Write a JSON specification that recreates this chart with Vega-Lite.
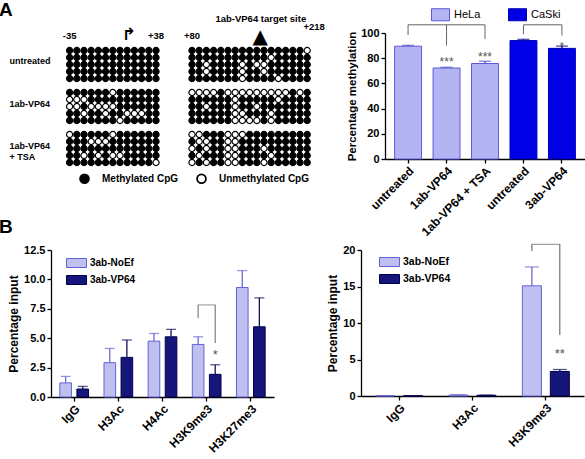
{
"$schema": "https://vega.github.io/schema/vega-lite/v6.json",
"padding": {"left": -2, "top": 1, "right": 0, "bottom": 0},
"background": "white",
"config": {
 "view": {"stroke": null},
 "font": "Liberation Sans",
 "axis": {"domainColor": "black", "tickColor": "black", "domainWidth": 1.3, "tickWidth": 1.3, "tickSize": 4, "labelFont": "Liberation Sans", "labelFontWeight": "bold", "labelColor": "black", "labelFontSize": 11, "titleFont": "Liberation Sans", "titleFontWeight": "bold", "titleColor": "black", "titleFontSize": 12, "grid": false, "labelPadding": 2, "labelOverlap": false},
 "legend": {"labelFont": "Liberation Sans", "labelColor": "black"},
 "text": {"font": "Liberation Sans"}
},
"resolve": {"scale": {"fill": "independent", "stroke": "independent", "color": "independent", "xOffset": "independent", "yOffset": "independent"}, "legend": {"fill": "independent", "stroke": "independent", "color": "independent"}},
"datasets": {
"cells": [
{"g":"u","r":1,"b":"L","c":1,"m":"M"},{"g":"u","r":1,"b":"L","c":2,"m":"M"},{"g":"u","r":1,"b":"L","c":3,"m":"M"},{"g":"u","r":1,"b":"L","c":4,"m":"M"},{"g":"u","r":1,"b":"L","c":5,"m":"M"},{"g":"u","r":1,"b":"L","c":6,"m":"M"},{"g":"u","r":1,"b":"L","c":7,"m":"M"},{"g":"u","r":1,"b":"L","c":8,"m":"M"},{"g":"u","r":1,"b":"L","c":9,"m":"M"},{"g":"u","r":1,"b":"L","c":10,"m":"M"},{"g":"u","r":1,"b":"L","c":11,"m":"M"},{"g":"u","r":1,"b":"L","c":12,"m":"M"},{"g":"u","r":1,"b":"L","c":13,"m":"M"},
{"g":"u","r":2,"b":"L","c":1,"m":"M"},{"g":"u","r":2,"b":"L","c":2,"m":"M"},{"g":"u","r":2,"b":"L","c":3,"m":"M"},{"g":"u","r":2,"b":"L","c":4,"m":"M"},{"g":"u","r":2,"b":"L","c":5,"m":"M"},{"g":"u","r":2,"b":"L","c":6,"m":"M"},{"g":"u","r":2,"b":"L","c":7,"m":"M"},{"g":"u","r":2,"b":"L","c":8,"m":"M"},{"g":"u","r":2,"b":"L","c":9,"m":"M"},{"g":"u","r":2,"b":"L","c":10,"m":"M"},{"g":"u","r":2,"b":"L","c":11,"m":"M"},{"g":"u","r":2,"b":"L","c":12,"m":"M"},{"g":"u","r":2,"b":"L","c":13,"m":"M"},
{"g":"u","r":3,"b":"L","c":1,"m":"M"},{"g":"u","r":3,"b":"L","c":2,"m":"M"},{"g":"u","r":3,"b":"L","c":3,"m":"M"},{"g":"u","r":3,"b":"L","c":4,"m":"M"},{"g":"u","r":3,"b":"L","c":5,"m":"M"},{"g":"u","r":3,"b":"L","c":6,"m":"M"},{"g":"u","r":3,"b":"L","c":7,"m":"M"},{"g":"u","r":3,"b":"L","c":8,"m":"M"},{"g":"u","r":3,"b":"L","c":9,"m":"M"},{"g":"u","r":3,"b":"L","c":10,"m":"M"},{"g":"u","r":3,"b":"L","c":11,"m":"M"},{"g":"u","r":3,"b":"L","c":12,"m":"M"},{"g":"u","r":3,"b":"L","c":13,"m":"M"},
{"g":"u","r":4,"b":"L","c":1,"m":"M"},{"g":"u","r":4,"b":"L","c":2,"m":"M"},{"g":"u","r":4,"b":"L","c":3,"m":"M"},{"g":"u","r":4,"b":"L","c":4,"m":"M"},{"g":"u","r":4,"b":"L","c":5,"m":"M"},{"g":"u","r":4,"b":"L","c":6,"m":"M"},{"g":"u","r":4,"b":"L","c":7,"m":"M"},{"g":"u","r":4,"b":"L","c":8,"m":"M"},{"g":"u","r":4,"b":"L","c":9,"m":"M"},{"g":"u","r":4,"b":"L","c":10,"m":"M"},{"g":"u","r":4,"b":"L","c":11,"m":"M"},{"g":"u","r":4,"b":"L","c":12,"m":"M"},{"g":"u","r":4,"b":"L","c":13,"m":"M"},
{"g":"u","r":5,"b":"L","c":1,"m":"M"},{"g":"u","r":5,"b":"L","c":2,"m":"M"},{"g":"u","r":5,"b":"L","c":3,"m":"M"},{"g":"u","r":5,"b":"L","c":4,"m":"M"},{"g":"u","r":5,"b":"L","c":5,"m":"M"},{"g":"u","r":5,"b":"L","c":6,"m":"M"},{"g":"u","r":5,"b":"L","c":7,"m":"M"},{"g":"u","r":5,"b":"L","c":8,"m":"M"},{"g":"u","r":5,"b":"L","c":9,"m":"M"},{"g":"u","r":5,"b":"L","c":10,"m":"M"},{"g":"u","r":5,"b":"L","c":11,"m":"M"},{"g":"u","r":5,"b":"L","c":12,"m":"M"},{"g":"u","r":5,"b":"L","c":13,"m":"M"},
{"g":"u","r":1,"b":"R","c":1,"m":"M"},{"g":"u","r":1,"b":"R","c":2,"m":"M"},{"g":"u","r":1,"b":"R","c":3,"m":"M"},{"g":"u","r":1,"b":"R","c":4,"m":"M"},{"g":"u","r":1,"b":"R","c":5,"m":"M"},{"g":"u","r":1,"b":"R","c":6,"m":"M"},{"g":"u","r":1,"b":"R","c":7,"m":"M"},{"g":"u","r":1,"b":"R","c":8,"m":"M"},{"g":"u","r":1,"b":"R","c":9,"m":"M"},{"g":"u","r":1,"b":"R","c":10,"m":"M"},{"g":"u","r":1,"b":"R","c":11,"m":"M"},{"g":"u","r":1,"b":"R","c":12,"m":"M"},{"g":"u","r":1,"b":"R","c":13,"m":"M"},{"g":"u","r":1,"b":"R","c":14,"m":"M"},{"g":"u","r":1,"b":"R","c":15,"m":"M"},{"g":"u","r":1,"b":"R","c":16,"m":"M"},{"g":"u","r":1,"b":"R","c":17,"m":"U"},
{"g":"u","r":2,"b":"R","c":1,"m":"M"},{"g":"u","r":2,"b":"R","c":2,"m":"M"},{"g":"u","r":2,"b":"R","c":3,"m":"M"},{"g":"u","r":2,"b":"R","c":4,"m":"M"},{"g":"u","r":2,"b":"R","c":5,"m":"M"},{"g":"u","r":2,"b":"R","c":6,"m":"M"},{"g":"u","r":2,"b":"R","c":7,"m":"M"},{"g":"u","r":2,"b":"R","c":8,"m":"M"},{"g":"u","r":2,"b":"R","c":9,"m":"M"},{"g":"u","r":2,"b":"R","c":10,"m":"M"},{"g":"u","r":2,"b":"R","c":11,"m":"M"},{"g":"u","r":2,"b":"R","c":12,"m":"U"},{"g":"u","r":2,"b":"R","c":13,"m":"M"},{"g":"u","r":2,"b":"R","c":14,"m":"M"},{"g":"u","r":2,"b":"R","c":15,"m":"M"},{"g":"u","r":2,"b":"R","c":16,"m":"M"},{"g":"u","r":2,"b":"R","c":17,"m":"M"},
{"g":"u","r":3,"b":"R","c":1,"m":"M"},{"g":"u","r":3,"b":"R","c":2,"m":"M"},{"g":"u","r":3,"b":"R","c":3,"m":"U"},{"g":"u","r":3,"b":"R","c":4,"m":"M"},{"g":"u","r":3,"b":"R","c":5,"m":"M"},{"g":"u","r":3,"b":"R","c":6,"m":"M"},{"g":"u","r":3,"b":"R","c":7,"m":"M"},{"g":"u","r":3,"b":"R","c":8,"m":"U"},{"g":"u","r":3,"b":"R","c":9,"m":"M"},{"g":"u","r":3,"b":"R","c":10,"m":"U"},{"g":"u","r":3,"b":"R","c":11,"m":"U"},{"g":"u","r":3,"b":"R","c":12,"m":"M"},{"g":"u","r":3,"b":"R","c":13,"m":"M"},{"g":"u","r":3,"b":"R","c":14,"m":"M"},{"g":"u","r":3,"b":"R","c":15,"m":"M"},{"g":"u","r":3,"b":"R","c":16,"m":"M"},{"g":"u","r":3,"b":"R","c":17,"m":"M"},
{"g":"u","r":4,"b":"R","c":1,"m":"M"},{"g":"u","r":4,"b":"R","c":2,"m":"M"},{"g":"u","r":4,"b":"R","c":3,"m":"U"},{"g":"u","r":4,"b":"R","c":4,"m":"M"},{"g":"u","r":4,"b":"R","c":5,"m":"M"},{"g":"u","r":4,"b":"R","c":6,"m":"M"},{"g":"u","r":4,"b":"R","c":7,"m":"M"},{"g":"u","r":4,"b":"R","c":8,"m":"U"},{"g":"u","r":4,"b":"R","c":9,"m":"M"},{"g":"u","r":4,"b":"R","c":10,"m":"M"},{"g":"u","r":4,"b":"R","c":11,"m":"U"},{"g":"u","r":4,"b":"R","c":12,"m":"M"},{"g":"u","r":4,"b":"R","c":13,"m":"M"},{"g":"u","r":4,"b":"R","c":14,"m":"M"},{"g":"u","r":4,"b":"R","c":15,"m":"M"},{"g":"u","r":4,"b":"R","c":16,"m":"M"},{"g":"u","r":4,"b":"R","c":17,"m":"M"},
{"g":"u","r":5,"b":"R","c":1,"m":"M"},{"g":"u","r":5,"b":"R","c":2,"m":"M"},{"g":"u","r":5,"b":"R","c":3,"m":"M"},{"g":"u","r":5,"b":"R","c":4,"m":"M"},{"g":"u","r":5,"b":"R","c":5,"m":"M"},{"g":"u","r":5,"b":"R","c":6,"m":"M"},{"g":"u","r":5,"b":"R","c":7,"m":"M"},{"g":"u","r":5,"b":"R","c":8,"m":"U"},{"g":"u","r":5,"b":"R","c":9,"m":"M"},{"g":"u","r":5,"b":"R","c":10,"m":"M"},{"g":"u","r":5,"b":"R","c":11,"m":"M"},{"g":"u","r":5,"b":"R","c":12,"m":"M"},{"g":"u","r":5,"b":"R","c":13,"m":"U"},{"g":"u","r":5,"b":"R","c":14,"m":"M"},{"g":"u","r":5,"b":"R","c":15,"m":"M"},{"g":"u","r":5,"b":"R","c":16,"m":"M"},{"g":"u","r":5,"b":"R","c":17,"m":"M"},
{"g":"v","r":1,"b":"L","c":1,"m":"M"},{"g":"v","r":1,"b":"L","c":2,"m":"M"},{"g":"v","r":1,"b":"L","c":3,"m":"M"},{"g":"v","r":1,"b":"L","c":4,"m":"M"},{"g":"v","r":1,"b":"L","c":5,"m":"M"},{"g":"v","r":1,"b":"L","c":6,"m":"M"},{"g":"v","r":1,"b":"L","c":7,"m":"U"},{"g":"v","r":1,"b":"L","c":8,"m":"M"},{"g":"v","r":1,"b":"L","c":9,"m":"M"},{"g":"v","r":1,"b":"L","c":10,"m":"M"},{"g":"v","r":1,"b":"L","c":11,"m":"M"},{"g":"v","r":1,"b":"L","c":12,"m":"M"},{"g":"v","r":1,"b":"L","c":13,"m":"M"},
{"g":"v","r":2,"b":"L","c":1,"m":"U"},{"g":"v","r":2,"b":"L","c":2,"m":"U"},{"g":"v","r":2,"b":"L","c":3,"m":"U"},{"g":"v","r":2,"b":"L","c":4,"m":"M"},{"g":"v","r":2,"b":"L","c":5,"m":"M"},{"g":"v","r":2,"b":"L","c":6,"m":"M"},{"g":"v","r":2,"b":"L","c":7,"m":"M"},{"g":"v","r":2,"b":"L","c":8,"m":"M"},{"g":"v","r":2,"b":"L","c":9,"m":"M"},{"g":"v","r":2,"b":"L","c":10,"m":"M"},{"g":"v","r":2,"b":"L","c":11,"m":"M"},{"g":"v","r":2,"b":"L","c":12,"m":"M"},{"g":"v","r":2,"b":"L","c":13,"m":"M"},
{"g":"v","r":3,"b":"L","c":1,"m":"U"},{"g":"v","r":3,"b":"L","c":2,"m":"U"},{"g":"v","r":3,"b":"L","c":3,"m":"M"},{"g":"v","r":3,"b":"L","c":4,"m":"U"},{"g":"v","r":3,"b":"L","c":5,"m":"U"},{"g":"v","r":3,"b":"L","c":6,"m":"U"},{"g":"v","r":3,"b":"L","c":7,"m":"U"},{"g":"v","r":3,"b":"L","c":8,"m":"M"},{"g":"v","r":3,"b":"L","c":9,"m":"M"},{"g":"v","r":3,"b":"L","c":10,"m":"M"},{"g":"v","r":3,"b":"L","c":11,"m":"M"},{"g":"v","r":3,"b":"L","c":12,"m":"M"},{"g":"v","r":3,"b":"L","c":13,"m":"M"},
{"g":"v","r":4,"b":"L","c":1,"m":"M"},{"g":"v","r":4,"b":"L","c":2,"m":"M"},{"g":"v","r":4,"b":"L","c":3,"m":"U"},{"g":"v","r":4,"b":"L","c":4,"m":"M"},{"g":"v","r":4,"b":"L","c":5,"m":"M"},{"g":"v","r":4,"b":"L","c":6,"m":"U"},{"g":"v","r":4,"b":"L","c":7,"m":"M"},{"g":"v","r":4,"b":"L","c":8,"m":"M"},{"g":"v","r":4,"b":"L","c":9,"m":"U"},{"g":"v","r":4,"b":"L","c":10,"m":"U"},{"g":"v","r":4,"b":"L","c":11,"m":"U"},{"g":"v","r":4,"b":"L","c":12,"m":"M"},{"g":"v","r":4,"b":"L","c":13,"m":"M"},
{"g":"v","r":5,"b":"L","c":1,"m":"M"},{"g":"v","r":5,"b":"L","c":2,"m":"M"},{"g":"v","r":5,"b":"L","c":3,"m":"M"},{"g":"v","r":5,"b":"L","c":4,"m":"M"},{"g":"v","r":5,"b":"L","c":5,"m":"M"},{"g":"v","r":5,"b":"L","c":6,"m":"M"},{"g":"v","r":5,"b":"L","c":7,"m":"M"},{"g":"v","r":5,"b":"L","c":8,"m":"U"},{"g":"v","r":5,"b":"L","c":9,"m":"M"},{"g":"v","r":5,"b":"L","c":10,"m":"M"},{"g":"v","r":5,"b":"L","c":11,"m":"M"},{"g":"v","r":5,"b":"L","c":12,"m":"M"},{"g":"v","r":5,"b":"L","c":13,"m":"M"},
{"g":"v","r":1,"b":"R","c":1,"m":"U"},{"g":"v","r":1,"b":"R","c":2,"m":"U"},{"g":"v","r":1,"b":"R","c":3,"m":"U"},{"g":"v","r":1,"b":"R","c":4,"m":"U"},{"g":"v","r":1,"b":"R","c":5,"m":"M"},{"g":"v","r":1,"b":"R","c":6,"m":"U"},{"g":"v","r":1,"b":"R","c":7,"m":"U"},{"g":"v","r":1,"b":"R","c":8,"m":"U"},{"g":"v","r":1,"b":"R","c":9,"m":"U"},{"g":"v","r":1,"b":"R","c":10,"m":"U"},{"g":"v","r":1,"b":"R","c":11,"m":"U"},{"g":"v","r":1,"b":"R","c":12,"m":"U"},{"g":"v","r":1,"b":"R","c":13,"m":"U"},{"g":"v","r":1,"b":"R","c":14,"m":"U"},{"g":"v","r":1,"b":"R","c":15,"m":"M"},{"g":"v","r":1,"b":"R","c":16,"m":"U"},{"g":"v","r":1,"b":"R","c":17,"m":"M"},
{"g":"v","r":2,"b":"R","c":1,"m":"M"},{"g":"v","r":2,"b":"R","c":2,"m":"M"},{"g":"v","r":2,"b":"R","c":3,"m":"M"},{"g":"v","r":2,"b":"R","c":4,"m":"M"},{"g":"v","r":2,"b":"R","c":5,"m":"M"},{"g":"v","r":2,"b":"R","c":6,"m":"M"},{"g":"v","r":2,"b":"R","c":7,"m":"U"},{"g":"v","r":2,"b":"R","c":8,"m":"M"},{"g":"v","r":2,"b":"R","c":9,"m":"M"},{"g":"v","r":2,"b":"R","c":10,"m":"M"},{"g":"v","r":2,"b":"R","c":11,"m":"M"},{"g":"v","r":2,"b":"R","c":12,"m":"M"},{"g":"v","r":2,"b":"R","c":13,"m":"U"},{"g":"v","r":2,"b":"R","c":14,"m":"M"},{"g":"v","r":2,"b":"R","c":15,"m":"M"},{"g":"v","r":2,"b":"R","c":16,"m":"M"},{"g":"v","r":2,"b":"R","c":17,"m":"M"},
{"g":"v","r":3,"b":"R","c":1,"m":"M"},{"g":"v","r":3,"b":"R","c":2,"m":"M"},{"g":"v","r":3,"b":"R","c":3,"m":"U"},{"g":"v","r":3,"b":"R","c":4,"m":"M"},{"g":"v","r":3,"b":"R","c":5,"m":"M"},{"g":"v","r":3,"b":"R","c":6,"m":"M"},{"g":"v","r":3,"b":"R","c":7,"m":"U"},{"g":"v","r":3,"b":"R","c":8,"m":"M"},{"g":"v","r":3,"b":"R","c":9,"m":"M"},{"g":"v","r":3,"b":"R","c":10,"m":"U"},{"g":"v","r":3,"b":"R","c":11,"m":"M"},{"g":"v","r":3,"b":"R","c":12,"m":"M"},{"g":"v","r":3,"b":"R","c":13,"m":"M"},{"g":"v","r":3,"b":"R","c":14,"m":"M"},{"g":"v","r":3,"b":"R","c":15,"m":"M"},{"g":"v","r":3,"b":"R","c":16,"m":"M"},{"g":"v","r":3,"b":"R","c":17,"m":"M"},
{"g":"v","r":4,"b":"R","c":1,"m":"M"},{"g":"v","r":4,"b":"R","c":2,"m":"M"},{"g":"v","r":4,"b":"R","c":3,"m":"M"},{"g":"v","r":4,"b":"R","c":4,"m":"M"},{"g":"v","r":4,"b":"R","c":5,"m":"M"},{"g":"v","r":4,"b":"R","c":6,"m":"M"},{"g":"v","r":4,"b":"R","c":7,"m":"U"},{"g":"v","r":4,"b":"R","c":8,"m":"U"},{"g":"v","r":4,"b":"R","c":9,"m":"M"},{"g":"v","r":4,"b":"R","c":10,"m":"M"},{"g":"v","r":4,"b":"R","c":11,"m":"M"},{"g":"v","r":4,"b":"R","c":12,"m":"U"},{"g":"v","r":4,"b":"R","c":13,"m":"M"},{"g":"v","r":4,"b":"R","c":14,"m":"M"},{"g":"v","r":4,"b":"R","c":15,"m":"M"},{"g":"v","r":4,"b":"R","c":16,"m":"M"},{"g":"v","r":4,"b":"R","c":17,"m":"M"},
{"g":"v","r":5,"b":"R","c":1,"m":"M"},{"g":"v","r":5,"b":"R","c":2,"m":"M"},{"g":"v","r":5,"b":"R","c":3,"m":"M"},{"g":"v","r":5,"b":"R","c":4,"m":"M"},{"g":"v","r":5,"b":"R","c":5,"m":"M"},{"g":"v","r":5,"b":"R","c":6,"m":"M"},{"g":"v","r":5,"b":"R","c":7,"m":"U"},{"g":"v","r":5,"b":"R","c":8,"m":"U"},{"g":"v","r":5,"b":"R","c":9,"m":"U"},{"g":"v","r":5,"b":"R","c":10,"m":"U"},{"g":"v","r":5,"b":"R","c":11,"m":"M"},{"g":"v","r":5,"b":"R","c":12,"m":"U"},{"g":"v","r":5,"b":"R","c":13,"m":"M"},{"g":"v","r":5,"b":"R","c":14,"m":"M"},{"g":"v","r":5,"b":"R","c":15,"m":"M"},{"g":"v","r":5,"b":"R","c":16,"m":"M"},{"g":"v","r":5,"b":"R","c":17,"m":"M"},
{"g":"t","r":1,"b":"L","c":1,"m":"U"},{"g":"t","r":1,"b":"L","c":2,"m":"M"},{"g":"t","r":1,"b":"L","c":3,"m":"M"},{"g":"t","r":1,"b":"L","c":4,"m":"M"},{"g":"t","r":1,"b":"L","c":5,"m":"M"},{"g":"t","r":1,"b":"L","c":6,"m":"M"},{"g":"t","r":1,"b":"L","c":7,"m":"U"},{"g":"t","r":1,"b":"L","c":8,"m":"M"},{"g":"t","r":1,"b":"L","c":9,"m":"M"},{"g":"t","r":1,"b":"L","c":10,"m":"M"},{"g":"t","r":1,"b":"L","c":11,"m":"M"},{"g":"t","r":1,"b":"L","c":12,"m":"M"},{"g":"t","r":1,"b":"L","c":13,"m":"M"},
{"g":"t","r":2,"b":"L","c":1,"m":"M"},{"g":"t","r":2,"b":"L","c":2,"m":"M"},{"g":"t","r":2,"b":"L","c":3,"m":"M"},{"g":"t","r":2,"b":"L","c":4,"m":"U"},{"g":"t","r":2,"b":"L","c":5,"m":"U"},{"g":"t","r":2,"b":"L","c":6,"m":"U"},{"g":"t","r":2,"b":"L","c":7,"m":"M"},{"g":"t","r":2,"b":"L","c":8,"m":"M"},{"g":"t","r":2,"b":"L","c":9,"m":"M"},{"g":"t","r":2,"b":"L","c":10,"m":"M"},{"g":"t","r":2,"b":"L","c":11,"m":"M"},{"g":"t","r":2,"b":"L","c":12,"m":"M"},{"g":"t","r":2,"b":"L","c":13,"m":"M"},
{"g":"t","r":3,"b":"L","c":1,"m":"M"},{"g":"t","r":3,"b":"L","c":2,"m":"M"},{"g":"t","r":3,"b":"L","c":3,"m":"M"},{"g":"t","r":3,"b":"L","c":4,"m":"M"},{"g":"t","r":3,"b":"L","c":5,"m":"M"},{"g":"t","r":3,"b":"L","c":6,"m":"M"},{"g":"t","r":3,"b":"L","c":7,"m":"M"},{"g":"t","r":3,"b":"L","c":8,"m":"M"},{"g":"t","r":3,"b":"L","c":9,"m":"M"},{"g":"t","r":3,"b":"L","c":10,"m":"M"},{"g":"t","r":3,"b":"L","c":11,"m":"M"},{"g":"t","r":3,"b":"L","c":12,"m":"M"},{"g":"t","r":3,"b":"L","c":13,"m":"M"},
{"g":"t","r":4,"b":"L","c":1,"m":"M"},{"g":"t","r":4,"b":"L","c":2,"m":"M"},{"g":"t","r":4,"b":"L","c":3,"m":"U"},{"g":"t","r":4,"b":"L","c":4,"m":"M"},{"g":"t","r":4,"b":"L","c":5,"m":"U"},{"g":"t","r":4,"b":"L","c":6,"m":"M"},{"g":"t","r":4,"b":"L","c":7,"m":"U"},{"g":"t","r":4,"b":"L","c":8,"m":"U"},{"g":"t","r":4,"b":"L","c":9,"m":"M"},{"g":"t","r":4,"b":"L","c":10,"m":"M"},{"g":"t","r":4,"b":"L","c":11,"m":"M"},{"g":"t","r":4,"b":"L","c":12,"m":"M"},{"g":"t","r":4,"b":"L","c":13,"m":"M"},
{"g":"t","r":5,"b":"L","c":1,"m":"M"},{"g":"t","r":5,"b":"L","c":2,"m":"M"},{"g":"t","r":5,"b":"L","c":3,"m":"M"},{"g":"t","r":5,"b":"L","c":4,"m":"M"},{"g":"t","r":5,"b":"L","c":5,"m":"M"},{"g":"t","r":5,"b":"L","c":6,"m":"M"},{"g":"t","r":5,"b":"L","c":7,"m":"M"},{"g":"t","r":5,"b":"L","c":8,"m":"M"},{"g":"t","r":5,"b":"L","c":9,"m":"M"},{"g":"t","r":5,"b":"L","c":10,"m":"M"},{"g":"t","r":5,"b":"L","c":11,"m":"M"},{"g":"t","r":5,"b":"L","c":12,"m":"M"},{"g":"t","r":5,"b":"L","c":13,"m":"U"},
{"g":"t","r":1,"b":"R","c":1,"m":"U"},{"g":"t","r":1,"b":"R","c":2,"m":"U"},{"g":"t","r":1,"b":"R","c":3,"m":"M"},{"g":"t","r":1,"b":"R","c":4,"m":"M"},{"g":"t","r":1,"b":"R","c":5,"m":"M"},{"g":"t","r":1,"b":"R","c":6,"m":"U"},{"g":"t","r":1,"b":"R","c":7,"m":"U"},{"g":"t","r":1,"b":"R","c":8,"m":"U"},{"g":"t","r":1,"b":"R","c":9,"m":"M"},{"g":"t","r":1,"b":"R","c":10,"m":"M"},{"g":"t","r":1,"b":"R","c":11,"m":"M"},{"g":"t","r":1,"b":"R","c":12,"m":"M"},{"g":"t","r":1,"b":"R","c":13,"m":"M"},{"g":"t","r":1,"b":"R","c":14,"m":"M"},{"g":"t","r":1,"b":"R","c":15,"m":"M"},{"g":"t","r":1,"b":"R","c":16,"m":"M"},{"g":"t","r":1,"b":"R","c":17,"m":"M"},
{"g":"t","r":2,"b":"R","c":1,"m":"M"},{"g":"t","r":2,"b":"R","c":2,"m":"U"},{"g":"t","r":2,"b":"R","c":3,"m":"U"},{"g":"t","r":2,"b":"R","c":4,"m":"M"},{"g":"t","r":2,"b":"R","c":5,"m":"M"},{"g":"t","r":2,"b":"R","c":6,"m":"U"},{"g":"t","r":2,"b":"R","c":7,"m":"U"},{"g":"t","r":2,"b":"R","c":8,"m":"M"},{"g":"t","r":2,"b":"R","c":9,"m":"M"},{"g":"t","r":2,"b":"R","c":10,"m":"M"},{"g":"t","r":2,"b":"R","c":11,"m":"M"},{"g":"t","r":2,"b":"R","c":12,"m":"M"},{"g":"t","r":2,"b":"R","c":13,"m":"M"},{"g":"t","r":2,"b":"R","c":14,"m":"M"},{"g":"t","r":2,"b":"R","c":15,"m":"M"},{"g":"t","r":2,"b":"R","c":16,"m":"M"},{"g":"t","r":2,"b":"R","c":17,"m":"M"},
{"g":"t","r":3,"b":"R","c":1,"m":"U"},{"g":"t","r":3,"b":"R","c":2,"m":"M"},{"g":"t","r":3,"b":"R","c":3,"m":"U"},{"g":"t","r":3,"b":"R","c":4,"m":"M"},{"g":"t","r":3,"b":"R","c":5,"m":"M"},{"g":"t","r":3,"b":"R","c":6,"m":"U"},{"g":"t","r":3,"b":"R","c":7,"m":"U"},{"g":"t","r":3,"b":"R","c":8,"m":"M"},{"g":"t","r":3,"b":"R","c":9,"m":"M"},{"g":"t","r":3,"b":"R","c":10,"m":"M"},{"g":"t","r":3,"b":"R","c":11,"m":"U"},{"g":"t","r":3,"b":"R","c":12,"m":"M"},{"g":"t","r":3,"b":"R","c":13,"m":"M"},{"g":"t","r":3,"b":"R","c":14,"m":"M"},{"g":"t","r":3,"b":"R","c":15,"m":"M"},{"g":"t","r":3,"b":"R","c":16,"m":"M"},{"g":"t","r":3,"b":"R","c":17,"m":"M"},
{"g":"t","r":4,"b":"R","c":1,"m":"M"},{"g":"t","r":4,"b":"R","c":2,"m":"U"},{"g":"t","r":4,"b":"R","c":3,"m":"M"},{"g":"t","r":4,"b":"R","c":4,"m":"M"},{"g":"t","r":4,"b":"R","c":5,"m":"M"},{"g":"t","r":4,"b":"R","c":6,"m":"U"},{"g":"t","r":4,"b":"R","c":7,"m":"U"},{"g":"t","r":4,"b":"R","c":8,"m":"M"},{"g":"t","r":4,"b":"R","c":9,"m":"M"},{"g":"t","r":4,"b":"R","c":10,"m":"M"},{"g":"t","r":4,"b":"R","c":11,"m":"M"},{"g":"t","r":4,"b":"R","c":12,"m":"U"},{"g":"t","r":4,"b":"R","c":13,"m":"M"},{"g":"t","r":4,"b":"R","c":14,"m":"M"},{"g":"t","r":4,"b":"R","c":15,"m":"M"},{"g":"t","r":4,"b":"R","c":16,"m":"M"},{"g":"t","r":4,"b":"R","c":17,"m":"M"},
{"g":"t","r":5,"b":"R","c":1,"m":"U"},{"g":"t","r":5,"b":"R","c":2,"m":"M"},{"g":"t","r":5,"b":"R","c":3,"m":"U"},{"g":"t","r":5,"b":"R","c":4,"m":"M"},{"g":"t","r":5,"b":"R","c":5,"m":"M"},{"g":"t","r":5,"b":"R","c":6,"m":"U"},{"g":"t","r":5,"b":"R","c":7,"m":"U"},{"g":"t","r":5,"b":"R","c":8,"m":"M"},{"g":"t","r":5,"b":"R","c":9,"m":"M"},{"g":"t","r":5,"b":"R","c":10,"m":"M"},{"g":"t","r":5,"b":"R","c":11,"m":"U"},{"g":"t","r":5,"b":"R","c":12,"m":"M"},{"g":"t","r":5,"b":"R","c":13,"m":"M"},{"g":"t","r":5,"b":"R","c":14,"m":"M"},{"g":"t","r":5,"b":"R","c":15,"m":"M"},{"g":"t","r":5,"b":"R","c":16,"m":"M"},{"g":"t","r":5,"b":"R","c":17,"m":"M"}
],
"meth": [
{"k":"HeLa|untreated","cell":"HeLa","v":89.5,"e":90.2},
{"k":"HeLa|1ab-VP64","cell":"HeLa","v":72.2,"e":72.8},
{"k":"HeLa|1ab-VP64 + TSA","cell":"HeLa","v":75.8,"e":77.6},
{"k":"CaSki|untreated","cell":"CaSki","v":94,"e":95},
{"k":"CaSki|3ab-VP64","cell":"CaSki","v":87.8,"e":89.6}
],
"chip1": [
{"m":"IgG","s":"3ab-NoEf","v":1.2,"e":1.75},{"m":"IgG","s":"3ab-VP64","v":0.68,"e":0.9},
{"m":"H3Ac","s":"3ab-NoEf","v":2.92,"e":4.13},{"m":"H3Ac","s":"3ab-VP64","v":3.37,"e":4.85},
{"m":"H4Ac","s":"3ab-NoEf","v":4.75,"e":5.4},{"m":"H4Ac","s":"3ab-VP64","v":5.12,"e":5.75},
{"m":"H3K9me3","s":"3ab-NoEf","v":4.47,"e":5.12},{"m":"H3K9me3","s":"3ab-VP64","v":1.93,"e":2.74},
{"m":"H3K27me3","s":"3ab-NoEf","v":9.31,"e":10.75},{"m":"H3K27me3","s":"3ab-VP64","v":5.97,"e":8.43}
],
"chip2": [
{"m":"IgG","s":"3ab-NoEf","v":0.04,"e":0.05},{"m":"IgG","s":"3ab-VP64","v":0.04,"e":0.05},
{"m":"H3Ac","s":"3ab-NoEf","v":0.14,"e":0.17},{"m":"H3Ac","s":"3ab-VP64","v":0.1,"e":0.12},
{"m":"H3K9me3","s":"3ab-NoEf","v":15.09,"e":17.68},{"m":"H3K9me3","s":"3ab-VP64","v":3.36,"e":3.63}
]
},
"spacing": 5,
"vconcat": [
{
"spacing": 21,
"resolve": {"scale": {"fill": "independent", "stroke": "independent", "color": "independent", "xOffset": "independent", "yOffset": "independent"}, "legend": {"fill": "independent", "stroke": "independent", "color": "independent"}},
"hconcat": [
{
"width": 259.8, "height": 147,
"encoding": {
 "x": {"field": "b", "type": "nominal", "scale": {"type": "band", "domain": ["L", "R"], "paddingInner": 0, "paddingOuter": 0.06127, "align": 1}, "axis": null},
 "xOffset": {"field": "c", "type": "ordinal", "scale": {"type": "band", "domain": [1,2,3,4,5,6,7,8,9,10,11,12,13,14,15,16,17], "paddingInner": 0, "paddingOuter": 0}},
 "y": {"field": "g", "type": "nominal", "scale": {"type": "band", "domain": ["u", "v", "t"], "paddingInner": 0.1667, "paddingOuter": 0.3333},
   "axis": {"title": null, "domain": false, "ticks": false, "tickSize": 0, "labelAlign": "left", "labelPadding": 42, "labelFontSize": 9, "labelFontWeight": "bold", "labelOffset": -3, "labelLineHeight": 11, "labelLimit": 0,
     "labelExpr": "datum.value == 'u' ? 'untreated' : datum.value == 'v' ? '1ab-VP64' : ['1ab-VP64', '+ TSA']"}}
},
"layer": [
 {"data": {"name": "cells"},
  "mark": {"type": "point", "shape": "circle", "filled": true, "size": 38, "stroke": "black", "strokeWidth": 1.2, "opacity": 1},
  "encoding": {
   "yOffset": {"field": "r", "type": "ordinal", "scale": {"type": "band", "domain": [1,2,3,4,5], "paddingInner": 0, "paddingOuter": 0}},
   "fill": {"field": "m", "type": "nominal", "scale": {"domain": ["M", "U"], "range": ["black", "white"]},
     "legend": {"orient": "none", "legendX": 28, "legendY": 140, "direction": "horizontal", "title": null, "symbolType": "circle", "symbolSize": 78, "symbolStrokeColor": "black", "symbolStrokeWidth": 1.8, "labelFontSize": 10, "labelFontWeight": "bold", "labelOffset": 12, "columnPadding": 14,
       "labelExpr": "datum.value == 'M' ? 'Methylated CpG' : 'Unmethylated CpG'"}}
  }},
 {"data": {"values": [{"t": "-35", "b": "L", "c": 1, "g": "u"}, {"t": "+38", "b": "L", "c": 13, "g": "u"}, {"t": "+80", "b": "R", "c": 1, "g": "u"}]},
  "mark": {"type": "text", "fontSize": 9.5, "fontWeight": "bold", "baseline": "middle", "dy": -28.5, "color": "black"},
  "encoding": {"text": {"field": "t"}}},
 {"data": {"values": [{"t": "+218", "b": "R", "c": 17, "g": "u"}]},
  "mark": {"type": "text", "fontSize": 9.5, "fontWeight": "bold", "baseline": "middle", "dy": -37.5, "dx": 7, "color": "black"},
  "encoding": {"text": {"field": "t"}}},
 {"data": {"values": [{"t": "1ab-VP64 target site", "b": "R", "c": 10, "g": "u"}]},
  "mark": {"type": "text", "fontSize": 9.5, "fontWeight": "bold", "baseline": "middle", "dy": -45.5, "dx": 4, "color": "black"},
  "encoding": {"text": {"field": "t"}}},
 {"data": {"values": [{"t": "▲", "b": "R", "c": 10, "g": "u"}]},
  "mark": {"type": "text", "font": "DejaVu Sans", "fontSize": 20, "baseline": "middle", "dy": -27.5, "dx": 3.4, "color": "black"},
  "encoding": {"text": {"field": "t"}}},
 {"data": {"values": [{"t": "↱", "b": "L", "c": 9, "g": "u"}]},
  "mark": {"type": "text", "font": "DejaVu Sans", "fontWeight": "bold", "fontSize": 17, "baseline": "middle", "dy": -29.5, "dx": 2, "color": "black"},
  "encoding": {"text": {"field": "t"}}},
 {"data": {"values": [{"t": "A", "b": "L", "c": 1, "g": "u"}]},
  "mark": {"type": "text", "fontSize": 19, "fontWeight": "bold", "align": "left", "baseline": "alphabetic", "dy": -48, "dx": -70.6, "color": "black"},
  "encoding": {"text": {"field": "t"}}},
 {"data": {"values": [{"t": "B", "b": "L", "c": 1, "g": "t"}]},
  "mark": {"type": "text", "fontSize": 19, "fontWeight": "bold", "align": "left", "baseline": "alphabetic", "dy": 84.5, "dx": -70.6, "color": "black"},
  "encoding": {"text": {"field": "t"}}}
]
},
{
"width": 200, "height": 126,
"encoding": {
 "x": {"field": "k", "type": "nominal", "scale": {"type": "band", "domain": ["HeLa|untreated", "HeLa|1ab-VP64", "HeLa|1ab-VP64 + TSA", "CaSki|untreated", "CaSki|3ab-VP64"], "paddingInner": 0.3, "paddingOuter": 0.25},
   "axis": {"title": null, "labelAngle": -45, "labelFontSize": 12, "labelExpr": "split(datum.label, '|')[1]"}}
},
"layer": [
 {"data": {"name": "meth"},
  "mark": {"type": "bar", "strokeWidth": 1},
  "encoding": {
   "y": {"field": "v", "type": "quantitative", "scale": {"domain": [0, 100], "nice": false}, "axis": {"values": [0, 20, 40, 60, 80, 100], "tickCount": 10, "labelOverlap": false, "title": "Percentage methylation", "titleFontSize": 11.5, "titlePadding": 3}},
   "fill": {"field": "cell", "type": "nominal", "scale": {"domain": ["HeLa", "CaSki"], "range": ["#b4b4f2", "#0000e6"]},
     "legend": {"orient": "none", "legendX": 46, "legendY": -28, "direction": "horizontal", "title": null, "symbolType": "M-1,-0.667H1V0.667H-1Z", "symbolSize": 324, "symbolStrokeColor": "#4a4ad8", "symbolStrokeWidth": 1, "labelFontSize": 11, "labelFontWeight": "normal", "labelOffset": 4, "columnPadding": 25}},
   "stroke": {"field": "cell", "type": "nominal", "scale": {"domain": ["HeLa", "CaSki"], "range": ["#5a5ad8", "#0000b0"]}, "legend": null}
  }},
 {"data": {"name": "meth"},
  "mark": {"type": "rule", "strokeWidth": 1.3},
  "encoding": {
   "y": {"field": "v", "type": "quantitative"}, "y2": {"field": "e"},
   "color": {"field": "cell", "type": "nominal", "scale": {"domain": ["HeLa", "CaSki"], "range": ["#5050c8", "#00008a"]}, "legend": null}
  }},
 {"data": {"name": "meth"},
  "mark": {"type": "tick", "size": 12, "thickness": 1.3},
  "encoding": {
   "y": {"field": "e", "type": "quantitative"},
   "color": {"field": "cell", "type": "nominal", "legend": null}
  }},
 {"data": {"values": [
   {"k": "HeLa|untreated", "y": 98.4, "o": 1, "d": "a"}, {"k": "HeLa|untreated", "y": 106.5, "o": 2, "d": "a"}, {"k": "HeLa|1ab-VP64 + TSA", "y": 106.5, "o": 3, "d": "a"}, {"k": "HeLa|1ab-VP64 + TSA", "y": 95.3, "o": 4, "d": "a"},
   {"k": "HeLa|1ab-VP64", "y": 106.5, "o": 1, "d": "b"}, {"k": "HeLa|1ab-VP64", "y": 90, "o": 2, "d": "b"},
   {"k": "CaSki|untreated", "y": 99.2, "o": 1, "d": "c"}, {"k": "CaSki|untreated", "y": 106.5, "o": 2, "d": "c"}, {"k": "CaSki|3ab-VP64", "y": 106.5, "o": 3, "d": "c"}, {"k": "CaSki|3ab-VP64", "y": 97.9, "o": 4, "d": "c"}]},
  "mark": {"type": "line", "color": "#666666", "strokeWidth": 1},
  "encoding": {"y": {"field": "y", "type": "quantitative"}, "detail": {"field": "d"}, "order": {"field": "o"}}},
 {"data": {"values": [{"k": "HeLa|1ab-VP64", "y": 79.5, "t": "***"}, {"k": "HeLa|1ab-VP64 + TSA", "y": 83.7, "t": "***"}, {"k": "CaSki|3ab-VP64", "y": 91, "t": "*"}]},
  "mark": {"type": "text", "fontSize": 12, "color": "#555555", "baseline": "middle", "dy": 3},
  "encoding": {"y": {"field": "y", "type": "quantitative"}, "text": {"field": "t"}}}
]
}
]
},
{
"spacing": 87,
"bounds": "flush",
"resolve": {"scale": {"fill": "independent", "stroke": "independent", "color": "independent", "xOffset": "independent", "yOffset": "independent"}, "legend": {"fill": "independent", "stroke": "independent", "color": "independent"}},
"hconcat": [
{
"width": 223, "height": 147,
"encoding": {
 "x": {"field": "m", "type": "nominal", "scale": {"type": "band", "domain": ["IgG", "H3Ac", "H4Ac", "H3K9me3", "H3K27me3"], "paddingInner": 0.35, "paddingOuter": 0.2}, "axis": {"title": null, "labelAngle": -45, "labelFontSize": 12}}
},
"layer": [
 {"data": {"name": "chip1"},
  "mark": {"type": "bar", "strokeWidth": 1},
  "encoding": {
   "xOffset": {"field": "s", "type": "nominal", "scale": {"type": "band", "domain": ["3ab-NoEf", "3ab-VP64"], "paddingInner": 0.32, "paddingOuter": 0}},
   "y": {"field": "v", "type": "quantitative", "scale": {"domain": [0, 12.5], "nice": false}, "axis": {"values": [0, 2.5, 5, 7.5, 10, 12.5], "tickCount": 10, "labelOverlap": false, "format": ".1f", "title": "Percentage input", "titlePadding": 3}},
   "fill": {"field": "s", "type": "nominal", "scale": {"domain": ["3ab-NoEf", "3ab-VP64"], "range": ["#c0c0f0", "#15157a"]},
     "legend": {"orient": "none", "legendX": 15, "legendY": 2.5, "title": null, "symbolType": "M-1,-0.45H1V0.45H-1Z", "symbolSize": 400, "symbolStrokeColor": "#3a3ab0", "symbolStrokeWidth": 1, "labelFontSize": 10, "labelFontWeight": "bold", "labelOffset": 3, "rowPadding": 0}},
   "stroke": {"field": "s", "type": "nominal", "scale": {"domain": ["3ab-NoEf", "3ab-VP64"], "range": ["#6262d8", "#00004a"]}, "legend": null}
  }},
 {"data": {"name": "chip1"},
  "mark": {"type": "rule", "strokeWidth": 1.3},
  "encoding": {"xOffset": {"field": "s", "type": "nominal"}, "y": {"field": "v", "type": "quantitative"}, "y2": {"field": "e"},
   "color": {"field": "s", "type": "nominal", "scale": {"domain": ["3ab-NoEf", "3ab-VP64"], "range": ["#6a6ad0", "#10105a"]}, "legend": null}}},
 {"data": {"name": "chip1"},
  "mark": {"type": "tick", "size": 10, "thickness": 1.3},
  "encoding": {"xOffset": {"field": "s", "type": "nominal"}, "y": {"field": "e", "type": "quantitative"}, "color": {"field": "s", "type": "nominal", "legend": null}}},
 {"data": {"values": [{"m": "H3K9me3", "s": "3ab-NoEf", "y": 6.7, "y2": 7.83}, {"m": "H3K9me3", "s": "3ab-VP64", "y": 4.58, "y2": 7.83}]},
  "mark": {"type": "rule", "color": "#666666", "strokeWidth": 1},
  "encoding": {"xOffset": {"field": "s", "type": "nominal"}, "y": {"field": "y", "type": "quantitative"}, "y2": {"field": "y2"}}},
 {"data": {"values": [{"m": "H3K9me3", "y": 7.83}]},
  "mark": {"type": "tick", "color": "#666666", "size": 17.6, "thickness": 1},
  "encoding": {"y": {"field": "y", "type": "quantitative"}}},
 {"data": {"values": [{"m": "H3K9me3", "s": "3ab-VP64", "y": 3.8, "t": "*"}]},
  "mark": {"type": "text", "fontSize": 13, "color": "#555555", "baseline": "middle", "dy": 3},
  "encoding": {"xOffset": {"field": "s", "type": "nominal"}, "y": {"field": "y", "type": "quantitative"}, "text": {"field": "t"}}}
]
},
{
"width": 223, "height": 146,
"encoding": {
 "x": {"field": "m", "type": "nominal", "scale": {"type": "band", "domain": ["IgG", "H3Ac", "H3K9me3"], "paddingInner": 0.36, "paddingOuter": 0.2}, "axis": {"title": null, "labelAngle": -45, "labelFontSize": 12}}
},
"layer": [
 {"data": {"name": "chip2"},
  "mark": {"type": "bar", "strokeWidth": 1},
  "encoding": {
   "xOffset": {"field": "s", "type": "nominal", "scale": {"type": "band", "domain": ["3ab-NoEf", "3ab-VP64"], "paddingInner": 0.32, "paddingOuter": 0}},
   "y": {"field": "v", "type": "quantitative", "scale": {"domain": [0, 20], "nice": false}, "axis": {"values": [0, 5, 10, 15, 20], "tickCount": 10, "labelOverlap": false, "title": "Percentage input", "titlePadding": 3}},
   "fill": {"field": "s", "type": "nominal", "scale": {"domain": ["3ab-NoEf", "3ab-VP64"], "range": ["#c0c0f0", "#15157a"]},
     "legend": {"orient": "none", "legendX": 18, "legendY": 1.5, "title": null, "symbolType": "M-1,-0.45H1V0.45H-1Z", "symbolSize": 400, "symbolStrokeColor": "#3a3ab0", "symbolStrokeWidth": 1, "labelFontSize": 10.5, "labelFontWeight": "bold", "labelOffset": 3, "rowPadding": -4}},
   "stroke": {"field": "s", "type": "nominal", "scale": {"domain": ["3ab-NoEf", "3ab-VP64"], "range": ["#6262d8", "#00004a"]}, "legend": null}
  }},
 {"data": {"name": "chip2"},
  "mark": {"type": "rule", "strokeWidth": 1.3},
  "encoding": {"xOffset": {"field": "s", "type": "nominal"}, "y": {"field": "v", "type": "quantitative"}, "y2": {"field": "e"},
   "color": {"field": "s", "type": "nominal", "scale": {"domain": ["3ab-NoEf", "3ab-VP64"], "range": ["#6a6ad0", "#10105a"]}, "legend": null}}},
 {"data": {"name": "chip2"},
  "mark": {"type": "tick", "size": 14, "thickness": 1.3},
  "encoding": {"xOffset": {"field": "s", "type": "nominal"}, "y": {"field": "e", "type": "quantitative"}, "color": {"field": "s", "type": "nominal", "legend": null}}},
 {"data": {"values": [{"m": "H3K9me3", "s": "3ab-NoEf", "y": 19.87, "y2": 20.78}, {"m": "H3K9me3", "s": "3ab-VP64", "y": 8.36, "y2": 20.78}]},
  "mark": {"type": "rule", "color": "#555555", "strokeWidth": 1},
  "encoding": {"xOffset": {"field": "s", "type": "nominal"}, "y": {"field": "y", "type": "quantitative"}, "y2": {"field": "y2"}}},
 {"data": {"values": [{"m": "H3K9me3", "y": 20.78}]},
  "mark": {"type": "tick", "color": "#555555", "size": 28.6, "thickness": 1},
  "encoding": {"y": {"field": "y", "type": "quantitative"}}},
 {"data": {"values": [{"m": "H3K9me3", "s": "3ab-VP64", "y": 6.2, "t": "**"}]},
  "mark": {"type": "text", "fontSize": 13, "color": "#555555", "baseline": "middle", "dy": 3},
  "encoding": {"xOffset": {"field": "s", "type": "nominal"}, "y": {"field": "y", "type": "quantitative"}, "text": {"field": "t"}}}
]
}
]
}
]
}
